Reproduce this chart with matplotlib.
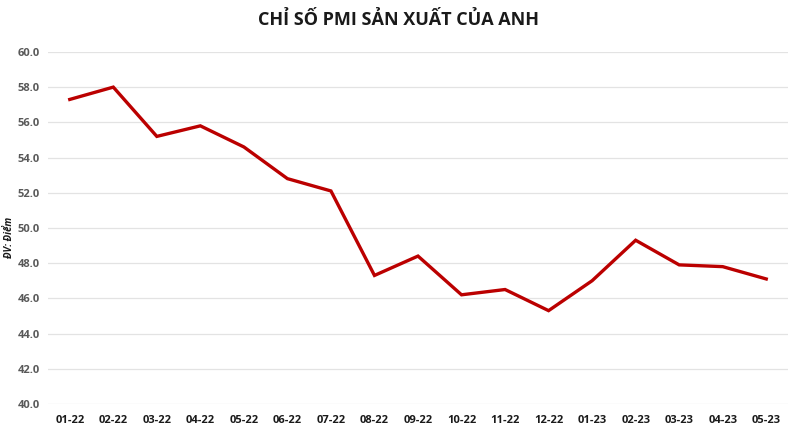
import matplotlib
matplotlib.use("Agg")
import matplotlib.pyplot as plt

months = ["01-22", "02-22", "03-22", "04-22", "05-22", "06-22", "07-22", "08-22", "09-22",
          "10-22", "11-22", "12-22", "01-23", "02-23", "03-23", "04-23", "05-23"]
pmi = [57.3, 58.0, 55.2, 55.8, 54.6, 52.8, 52.1, 47.3, 48.4,
       46.2, 46.5, 45.3, 47.0, 49.3, 47.9, 47.8, 47.1]
yticks = [40, 42, 44, 46, 48, 50, 52, 54, 56, 58, 60]

plt.rcParams["font.family"] = ["Open Sans", "DejaVu Sans"]

fig = plt.figure(figsize=(8, 4.4), dpi=100)
ax = fig.add_axes([0.06, 0.082, 0.925, 0.8])
x = list(range(len(months)))
ax.plot(x, pmi, color="#bb0000", lw=2.4, solid_joinstyle="miter")
ax.set_xlim(-0.5, len(months) - 0.5)
ax.set_ylim(40, 60)
ax.set_yticks(yticks)
ax.set_yticklabels(["%.1f" % v for v in yticks])
ax.set_xticks(x)
ax.set_xticklabels(months)
ax.grid(axis="y", color="#e3e3e3", lw=0.9)
ax.set_axisbelow(True)
for s in ax.spines.values():
    s.set_visible(False)
ax.tick_params(length=0)
ax.tick_params(axis="y", labelsize=8, labelcolor="#595959", pad=6)
ax.tick_params(axis="x", labelsize=8, labelcolor="#1a1a1a", pad=8)
for t in ax.get_yticklabels():
    t.set_fontweight("bold")
for t in ax.get_xticklabels():
    t.set_fontweight("bold")
fig.text(0.012, 0.46, "ĐV: Điểm", rotation=90, fontsize=7, fontweight="bold",
         fontstyle="italic", ha="center", va="center", color="#1a1a1a")
fig.suptitle("CHỈ SỐ PMI SẢN XUẤT CỦA ANH", fontsize=13, fontweight="bold",
             y=0.975, x=0.498, color="#1a1a1a")
fig.savefig("out.png", dpi=100)
